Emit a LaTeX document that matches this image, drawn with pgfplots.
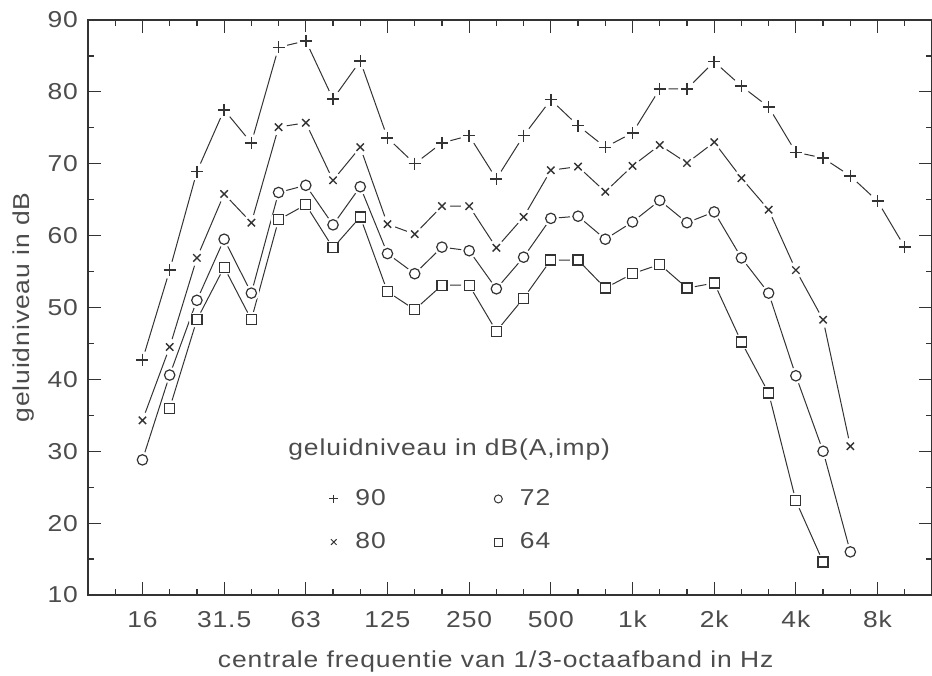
\documentclass[border=0pt]{standalone}
\usepackage{pgfplots}
\pgfplotsset{compat=1.18}
\usepackage{pgfplotstable}
\usepackage{fontspec}
\setmainfont{Liberation Sans}[FakeStretch=1.15, LetterSpace=4]
\definecolor{ln}{gray}{0.2}
\definecolor{tx}{gray}{0.3}

\pgfplotstableread{
i y
0 42.7
1 55.2
2 68.9
3 77.5
4 72.9
5 86.2
6 87.1
7 79.0
8 84.3
9 73.6
10 70.0
11 72.9
12 73.9
13 67.9
14 73.9
15 78.9
16 75.3
17 72.3
18 74.3
19 80.4
20 80.4
21 84.2
22 80.8
23 77.9
24 71.6
25 70.8
26 68.3
27 64.8
28 58.4
}\datA

\pgfplotstableread{
i y
0 34.3
1 44.5
2 56.9
3 65.8
4 61.8
5 75.1
6 75.7
7 67.7
8 72.3
9 61.6
10 60.2
11 64.1
12 64.1
13 58.3
14 62.6
15 69.1
16 69.6
17 66.1
18 69.7
19 72.6
20 70.1
21 73.0
22 68.0
23 63.6
24 55.2
25 48.3
26 30.7
}\datB

\pgfplotstableread{
i y
0 28.8
1 40.6
2 51.0
3 59.5
4 52.0
5 66.0
6 67.0
7 61.5
8 66.8
9 57.5
10 54.7
11 58.4
12 57.9
13 52.6
14 57.0
15 62.4
16 62.7
17 59.5
18 61.9
19 64.9
20 61.8
21 63.3
22 56.9
23 52.0
24 40.5
25 30.0
26 16.0
}\datC

\pgfplotstableread{
i y
1 36.0
2 48.3
3 55.6
4 48.3
5 62.2
6 64.3
7 58.3
8 62.6
9 52.2
10 49.7
11 53.1
12 53.1
13 46.7
14 51.3
15 56.6
16 56.6
17 52.7
18 54.7
19 56.0
20 52.7
21 53.4
22 45.2
23 38.1
24 23.1
25 14.6
}\datD

\newcommand{\fs}{\fontsize{11.5}{13.8}\selectfont}

\begin{document}
\begin{tikzpicture}
\begin{axis}[
  width=422pt, height=287.5pt, scale only axis,
  xmin=-2, xmax=29, ymin=10, ymax=90,
  xtick={0,3,...,27},
  xticklabels={16,31.5,63,125,250,500,1k,2k,4k,8k},
  minor xtick={-1,0,...,28},
  ytick={10,20,...,90},
  minor ytick={15,25,...,85},
  tick align=inside,
  major tick length=6.5pt, minor tick length=3pt,
  axis line style={ln, line width=0.8pt},
  tick style={ln, line width=0.6pt},
  ticklabel style={font=\fs, text=tx},
  xticklabel style={yshift=-4.5pt},
  yticklabel style={xshift=-1.5pt},
  /pgf/number format/assume math mode=true,
  xlabel={centrale frequentie van 1/3-octaafband in Hz},
  ylabel={geluidniveau in dB},
  label style={font=\fs, text=tx},
  xlabel style={at={(axis description cs:0.483,-0.115)}, anchor=center},
  ylabel style={at={(axis description cs:-0.0758,0.5)}, anchor=center},
  legend columns=2,
  legend cell align=left,
  legend style={draw=none, fill=none, font=\fs, text=tx, inner sep=0pt,
    at={(axis cs:6.7,25.3)}, anchor=north west,
    row sep=8pt,
    /tikz/every even column/.append style={column sep=50pt}},
  legend image code/.code={\path[draw=none] (0cm,0cm) -- (0.46cm,0cm); \draw[#1] plot coordinates {(0.15cm,0cm)};},
]
\addlegendimage{only marks, mark=+, mark size=2.2pt, ln, mark options={line width=0.5pt}}
\addlegendimage{only marks, mark=o, mark size=2pt, ln, mark options={line width=0.5pt}}
\addlegendimage{only marks, mark=x, mark size=2pt, ln, mark options={line width=0.5pt}}
\addlegendimage{only marks, mark=square, mark size=2pt, ln, mark options={line width=0.5pt}}
\legend{90,72,80,64}

% + series
\addplot[ln, line width=0.5pt, no marks] table {\datA};
\addplot[only marks, mark=*, color=white, mark size=4.2pt] table {\datA};
\addplot[only marks, mark=+, mark size=3pt, ln, mark options={line width=0.7pt}] table {\datA};
% x series
\addplot[ln, line width=0.5pt, no marks] table {\datB};
\addplot[only marks, mark=*, color=white, mark size=3.9pt] table {\datB};
\addplot[only marks, mark=x, mark size=2.6pt, ln, mark options={line width=0.7pt}] table {\datB};
% o series
\addplot[ln, line width=0.5pt, no marks] table {\datC};
\addplot[only marks, mark=*, color=white, mark size=3.8pt] table {\datC};
\addplot[only marks, mark=o, mark size=2.6pt, ln, mark options={line width=0.6pt}] table {\datC};
% square series
\addplot[ln, line width=0.5pt, no marks] table {\datD};
\addplot[only marks, mark=*, color=white, mark size=3.8pt] table {\datD};
\addplot[only marks, mark=square, mark size=2.5pt, ln, mark options={line width=0.6pt}] table {\datD};

\node[anchor=west, text=tx, font=\fs] at (axis cs:5.1,30.3) {geluidniveau in dB(A,imp)};
\end{axis}
\pgfresetboundingbox
\path ([xshift=-44pt,yshift=-40pt]current axis.south west) rectangle ([yshift=10pt]current axis.north east);
\end{tikzpicture}
\end{document}
